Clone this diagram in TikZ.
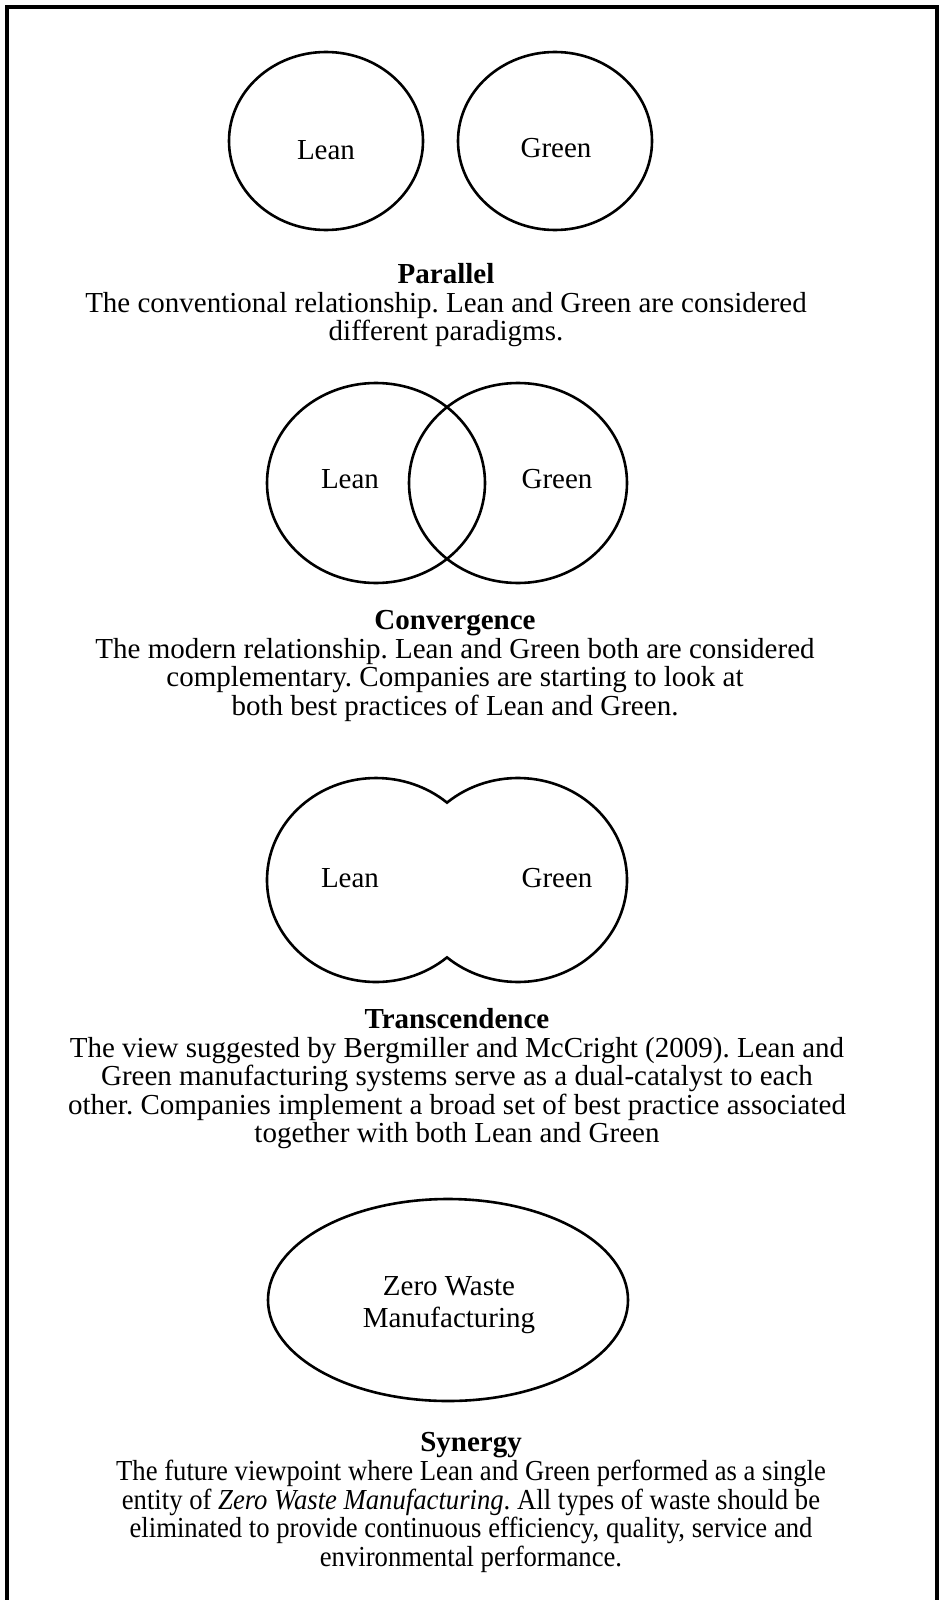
\documentclass[tikz,border=0pt]{standalone}
\usepackage{fontspec}
\setmainfont{Liberation Serif}
\newfontfamily\narrowserif[FakeStretch=0.92]{Liberation Serif}
\frenchspacing
\begin{document}
\begin{tikzpicture}[x=0.5pt, y=-0.5pt,
  frame/.style={line width=1.6pt, line cap=rect},
  blob/.style={draw, line width=1.3pt},
  body/.style={font=\fontsize{14.5pt}{14.25pt}\selectfont, inner sep=0pt, align=center},
  caption/.style={body, anchor=base, font=\fontsize{14.5pt}{14.25pt}\selectfont\bfseries},
  desc/.style={body, anchor=north},
  label/.style={body, anchor=base}]
\useasboundingbox (0,0) rectangle (939,1600);

% outer frame, open at the bottom
\draw[frame] (7,1600) -- (7,7) -- (937,7) -- (937,1600);

% centres of the shapes
\coordinate (pL) at (326,141);
\coordinate (pG) at (555,141);
\coordinate (cL) at (376,483);
\coordinate (cG) at (518,483);
\coordinate (tL) at (376,880);
\coordinate (tG) at (518,880);
\coordinate (zw) at (448,1300);

% Parallel: two separate ellipses
\draw[blob] (pL) ellipse [x radius=97, y radius=89];
\draw[blob] (pG) ellipse [x radius=97, y radius=89];
\node[label] (pLean)  at (326,160) {Lean};
\node[label] (pGreen) at (556,157) {Green};
\node[caption] (pTitle) at (446,283) {Parallel};
\node[desc] (pText) at (446,291.7)
  {The conventional relationship. Lean and Green are considered\\different paradigms.};

% Convergence: two overlapping ellipses
\draw[blob] (cL) ellipse [x radius=109, y radius=100];
\draw[blob] (cG) ellipse [x radius=109, y radius=100];
\node[label] (cLean)  at (350,488) {Lean};
\node[label] (cGreen) at (557,488) {Green};
\node[caption] (cTitle) at (455,629) {Convergence};
\node[desc] (cText) at (455,637.7)
  {The modern relationship. Lean and Green both are considered\\complementary. Companies are starting to look at\\both best practices of Lean and Green.};

% Transcendence: outline of the union of the two ellipses
\draw[blob] (tL) ++(49.35:109 and 102)
  arc[start angle=49.35, end angle=310.65, x radius=109, y radius=102]
  arc[start angle=229.35, end angle=490.65, x radius=109, y radius=102] -- cycle;
\node[label] (tLean)  at (350,887) {Lean};
\node[label] (tGreen) at (557,887) {Green};
\node[caption] (tTitle) at (457,1028) {Transcendence};
\node[desc] (tText) at (457,1036.7)
  {The view suggested by Bergmiller and McCright (2009). Lean and\\Green manufacturing systems serve as a dual-catalyst to each\\other. Companies implement a broad set of best practice associated\\together with both Lean and Green};

% Synergy: one single ellipse
\draw[blob] (zw) ellipse [x radius=180, y radius=101];
\node[body, anchor=north, font=\fontsize{14.5pt}{16pt}\selectfont] (zText) at (449,1276)
  {Zero Waste\\Manufacturing};
\node[caption] (sTitle) at (471,1451) {Synergy};
\node[desc, font=\narrowserif\fontsize{14.5pt}{14.25pt}\selectfont] (sText) at (471,1459.7)
  {The future viewpoint where Lean and Green performed as a single\\entity of \textit{Zero Waste Manufacturing}. All types of waste should be\\eliminated to provide continuous efficiency, quality, service and\\environmental performance.};
\end{tikzpicture}
\end{document}
